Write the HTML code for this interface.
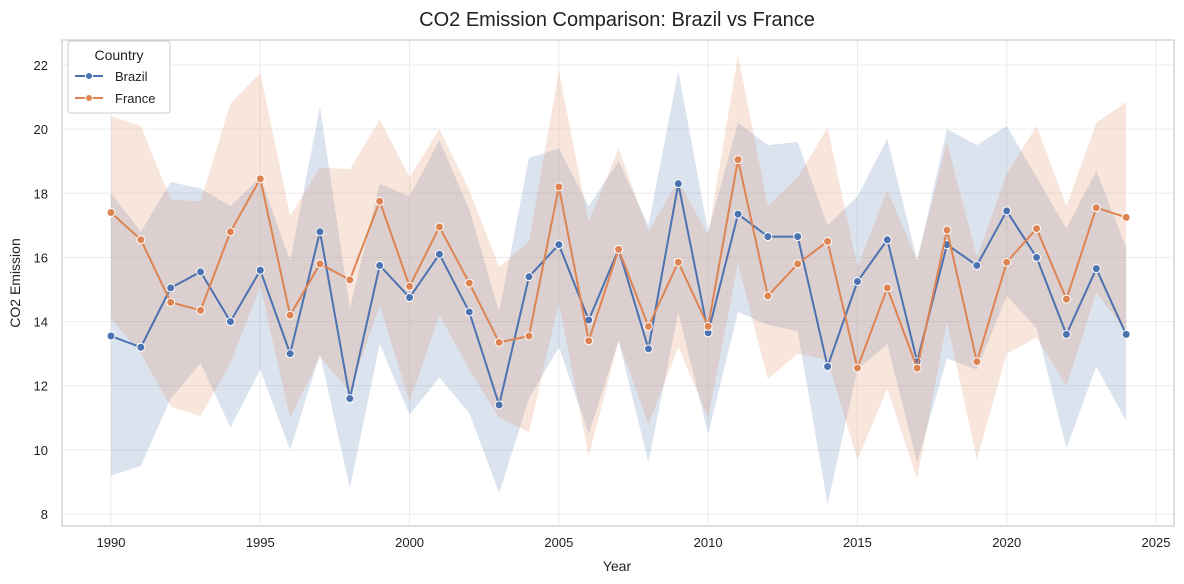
<!DOCTYPE html>
<html><head><meta charset="utf-8"><style>
html,body{margin:0;padding:0;background:#fff;}
svg{display:block;font-family:"Liberation Sans","DejaVu Sans",sans-serif;}
</style></head><body>
<svg id="chart" width="1184" height="584">
<text x="617" y="26" text-anchor="middle" font-size="20" fill="#222">CO2 Emission Comparison: Brazil vs France</text>
<g id="grid"></g>
<g id="bands"></g>
<g id="lines"></g>
<rect x="62" y="40" width="1112" height="486" fill="none" stroke="#ccc" stroke-width="1.2"/>
<g id="ticks"></g>
<text x="617" y="571" text-anchor="middle" font-size="14" fill="#222">Year</text>
<text transform="translate(20,283) rotate(-90)" text-anchor="middle" font-size="14" fill="#222">CO2 Emission</text>
<g>
<rect x="68" y="41" width="102" height="72" rx="3" fill="#fff" fill-opacity="0.85" stroke="#ccc"/>
<text x="119" y="60" text-anchor="middle" font-size="14" fill="#222">Country</text>
<g><line x1="75" y1="76" x2="103" y2="76" stroke="#4c72b0" stroke-width="2"/><circle cx="89" cy="76" r="3.5" fill="#4c72b0" stroke="#fff"/><text x="115" y="81" font-size="13" fill="#222">Brazil</text></g>
<g><line x1="75" y1="98" x2="103" y2="98" stroke="#dd8452" stroke-width="2"/><circle cx="89" cy="98" r="3.5" fill="#dd8452" stroke="#fff"/><text x="115" y="103" font-size="13" fill="#222">France</text></g>
</g>
</svg>
<script>
const years=[];for(let y=1990;y<=2024;y++)years.push(y);
const brazil=[13.55,13.2,15.05,15.55,14.0,15.6,13.0,16.8,11.6,15.75,14.75,16.1,14.3,11.4,15.4,16.4,14.05,16.25,13.15,18.3,13.65,17.35,16.65,16.65,12.6,15.25,16.55,12.75,16.4,15.75,17.45,16.0,13.6,15.65,13.6];
const brazilUpper=[18.0,16.8,18.35,18.15,17.6,18.5,15.9,20.7,14.4,18.3,17.9,19.65,17.5,14.3,19.1,19.4,17.6,19.0,17.0,21.8,16.8,20.2,19.5,19.6,17.0,17.9,19.7,15.9,20.0,19.5,20.1,18.5,16.9,18.7,16.3];
const brazilLower=[9.2,9.5,11.6,12.7,10.7,12.5,10.0,13.0,8.8,13.3,11.1,12.25,11.15,8.65,11.6,13.2,10.5,13.4,9.6,14.3,10.5,14.3,13.9,13.7,8.3,12.5,13.3,9.6,12.85,12.5,14.8,13.8,10.05,12.6,10.9];
const france=[17.4,16.55,14.6,14.35,16.8,18.45,14.2,15.8,15.3,17.75,15.1,16.95,15.2,13.35,13.55,18.2,13.4,16.25,13.85,15.85,13.85,19.05,14.8,15.8,16.5,12.55,15.05,12.55,16.85,12.75,15.85,16.9,14.7,17.55,17.25];
const franceUpper=[20.4,20.1,17.8,17.75,20.8,21.75,17.3,18.8,18.75,20.3,18.5,20.0,18.1,15.7,16.5,21.8,17.1,19.4,16.8,18.4,16.7,22.3,17.6,18.5,20.05,15.7,18.1,15.9,19.6,16.0,18.6,20.1,17.6,20.2,20.85];
const franceLower=[14.1,13.0,11.35,11.05,12.7,15.1,11.0,12.9,11.8,14.5,11.5,14.2,12.5,11.0,10.55,14.6,9.8,13.4,10.8,13.2,11.0,15.8,12.2,13.0,12.8,9.7,11.9,9.1,14.0,9.7,13.0,13.5,12.0,14.9,13.7];
const xTicks=[1990,1995,2000,2005,2010,2015,2020,2025];
const yTicks=[8,10,12,14,16,18,20,22];

const NS="http://www.w3.org/2000/svg";
const X=v=>111+(v-1990)*(1045/35);
const Y=v=>514-(v-8)*(449/14);
function mk(tag,attrs,parent){const e=document.createElementNS(NS,tag);for(const k in attrs)e.setAttribute(k,attrs[k]);parent.appendChild(e);return e;}
const grid=document.getElementById('grid'),ticks=document.getElementById('ticks');
xTicks.forEach(t=>{
  const l=mk('line',{x1:X(t),x2:X(t),y1:40,y2:526,stroke:'#ebebeb'},grid);
  
  
  const tx=mk('text',{x:X(t),y:547,'text-anchor':'middle','font-size':13,fill:'#222'},ticks);
  tx.textContent=t;
  
  
});
yTicks.forEach(t=>{
  const l=mk('line',{x1:62,x2:1174,y1:Y(t),y2:Y(t),stroke:'#ebebeb'},grid);
  
  
  const tx=mk('text',{x:48,y:Y(t)+5,'text-anchor':'end','font-size':13,fill:'#222'},ticks);
  tx.textContent=t;
  
  
});
const series=[
 {name:'brazil',v:brazil,u:brazilUpper,lo:brazilLower,c:'#4c72b0'},
 {name:'france',v:france,u:franceUpper,lo:franceLower,c:'#dd8452'}];
const bands=document.getElementById('bands'),lines=document.getElementById('lines');
series.forEach(s=>{
  let d='M'+years.map((y,i)=>X(y)+','+Y(s.u[i])).join('L');
  d+='L'+years.slice().reverse().map((y,j)=>{const i=years.length-1-j;return X(y)+','+Y(s.lo[i]);}).join('L')+'Z';
  const b=mk('path',{d:d,fill:s.c,'fill-opacity':0.2},bands);
  
  
});
series.forEach(s=>{
  const p=mk('polyline',{points:years.map((y,i)=>X(y)+','+Y(s.v[i])).join(' '),fill:'none',stroke:s.c,'stroke-width':2},lines);
  
  
  years.forEach((y,i)=>{
    const c=mk('circle',{cx:X(y),cy:Y(s.v[i]),r:4,fill:s.c,stroke:'#fff','stroke-width':1},lines);
    
    
  });
});
</script>
</body></html>
